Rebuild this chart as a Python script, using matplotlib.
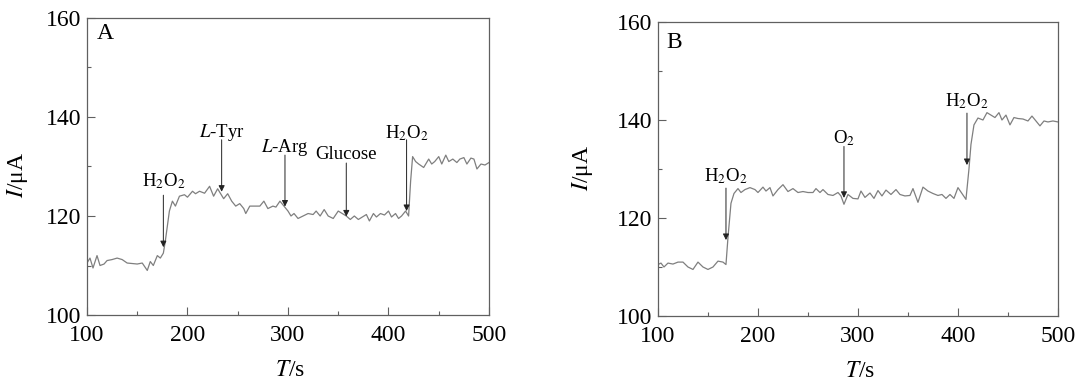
import numpy as np
import matplotlib
matplotlib.use('Agg')
import matplotlib.pyplot as plt
from matplotlib.ticker import MultipleLocator

plt.rcParams['font.family'] = ['Liberation Serif', 'DejaVu Serif']
plt.rcParams['mathtext.fontset'] = 'stix'

# Panel A: current response, several interferents then H2O2
t_a = [100, 103, 106, 110, 113, 117, 120, 125, 130, 135, 140, 145, 150, 155, 160, 163,
       166, 170, 173, 176, 178, 182, 185, 188, 192, 197, 200, 205, 208, 212, 217, 222,
       226, 230, 233, 236, 240, 244, 248, 252, 256, 258, 262, 268, 272, 276, 280, 285,
       288, 292, 296, 300, 303, 306, 310, 315, 320, 325, 328, 332, 336, 340, 345, 350,
       354, 358, 362, 366, 370, 374, 378, 381, 385, 388, 392, 396, 400, 403, 407, 410,
       413, 417, 420, 422, 424, 427, 430, 435, 440, 443, 446, 450, 453, 457, 460, 464,
       468, 471, 475, 478, 482, 485, 488, 492, 496, 500]
i_a = [110.5, 111.5, 109.5, 112.0, 110.0, 110.3, 111.0, 111.2, 111.5, 111.2, 110.5, 110.4,
       110.3, 110.5, 109.0, 110.8, 110.0, 112.0, 111.5, 112.5, 115.0, 121.0, 123.0, 122.0,
       124.0, 124.3, 123.8, 125.0, 124.5, 125.0, 124.6, 126.0, 124.0, 125.5, 124.5, 123.5,
       124.5, 123.0, 122.0, 122.5, 121.5, 120.5, 122.0, 122.0, 122.0, 123.0, 121.5, 122.0,
       121.8, 123.0, 122.0, 121.0, 120.0, 120.5, 119.5, 120.0, 120.5, 120.3, 121.0, 120.0,
       121.3, 120.0, 119.5, 121.0, 120.5, 120.0, 119.3, 120.0, 119.3, 119.8, 120.3, 119.0,
       120.5, 119.8, 120.5, 120.2, 121.0, 119.8, 120.5, 119.5, 120.0, 121.0, 120.0, 127.0,
       132.0, 131.0, 130.5, 129.8, 131.5, 130.5, 131.0, 132.0, 130.5, 132.3, 131.0, 131.5,
       130.8, 131.5, 131.8, 130.5, 131.7, 131.5, 129.5, 130.5, 130.3, 130.8]

# Panel B: H2O2, O2, H2O2
t_b = [100, 103, 106, 110, 115, 120, 125, 130, 135, 140, 145, 150, 155, 160, 165, 168,
       170, 173, 176, 180, 183, 187, 192, 197, 200, 205, 208, 212, 215, 220, 225, 230,
       235, 240, 245, 250, 255, 258, 262, 265, 270, 275, 280, 283, 286, 290, 295, 300,
       303, 307, 312, 316, 320, 324, 328, 333, 338, 342, 347, 352, 355, 360, 365, 370,
       375, 380, 384, 388, 392, 396, 400, 404, 408, 411, 413, 416, 420, 425, 429, 433,
       437, 441, 444, 448, 452, 456, 460, 465, 470, 474, 478, 482, 486, 490, 495, 500]
i_b = [110.5, 110.8, 110.0, 110.8, 110.6, 111.0, 111.0, 110.0, 109.5, 111.0, 110.0, 109.5,
       110.0, 111.2, 111.0, 110.5, 116.0, 123.0, 125.0, 126.0, 125.2, 125.8, 126.2, 125.8,
       125.2, 126.3, 125.5, 126.2, 124.5, 125.8, 126.8, 125.4, 126.0, 125.2, 125.4, 125.2,
       125.2, 126.0, 125.2, 125.8, 124.8, 124.6, 125.2, 124.5, 122.8, 124.8, 124.0, 123.9,
       125.5, 124.2, 125.1, 124.0, 125.6, 124.5, 125.7, 124.8, 125.8, 124.8, 124.5, 124.6,
       126.0, 123.2, 126.3, 125.5, 125.0, 124.6, 124.8, 124.0, 124.8, 124.0, 126.2, 125.0,
       123.8, 130.0, 135.0, 139.0, 140.4, 140.0, 141.5, 141.0, 140.5, 141.5, 140.0, 141.0,
       139.0, 140.5, 140.3, 140.2, 139.8, 140.8, 139.8, 138.8, 139.8, 139.6, 139.8, 139.6]

# arrows: label, x, arrow start (top), arrow tip, text centre
labels_a = [r'H$_2$O$_2$', r'$L$-Tyr', r'$L$-Arg', 'Glucose', r'H$_2$O$_2$']
x_a = [176, 234, 297, 358, 418]
top_a = [124.2, 135.4, 132.3, 130.7, 135.4]
tip_a = [113.7, 124.9, 121.9, 119.9, 121.0]
txt_a = [127.0, 136.8, 133.9, 132.5, 136.7]

labels_b = [r'H$_2$O$_2$', r'O$_2$', r'H$_2$O$_2$']
x_b = [168, 286, 409]
top_b = [126.1, 134.6, 141.4]
tip_b = [115.5, 124.1, 130.8]
txt_b = [128.6, 136.3, 143.9]

line_col = '#7f7f7f'
spine_col = '#606060'

fig = plt.figure(figsize=(10.79, 3.81), dpi=100)
ax1 = fig.add_axes([0.0806, 0.1732, 0.3726, 0.7796])
ax2 = fig.add_axes([0.6098, 0.1706, 0.3707, 0.7717])


def style(ax, letter, letter_pos, ylab_pos):
    ax.set_xlim(100, 500)
    ax.set_ylim(100, 160)
    ax.xaxis.set_major_locator(MultipleLocator(100))
    ax.xaxis.set_minor_locator(MultipleLocator(50))
    ax.yaxis.set_major_locator(MultipleLocator(20))
    ax.yaxis.set_minor_locator(MultipleLocator(10))
    ax.tick_params(which='both', direction='in', top=False, right=False,
                   color=spine_col, labelsize=17)
    ax.tick_params(axis='x', pad=7)
    ax.tick_params(axis='y', pad=4)
    ax.tick_params(which='major', length=6, width=0.8)
    ax.tick_params(which='minor', length=3, width=0.8)
    for s in ax.spines.values():
        s.set_color(spine_col)
        s.set_linewidth(0.9)
    ax.set_xlabel('$T$/s', fontsize=17)
    ax.set_ylabel('$I$/μA', fontsize=17)
    ax.xaxis.set_label_coords(0.505, -0.152)
    ax.yaxis.set_label_coords(*ylab_pos)
    ax.text(letter_pos[0], letter_pos[1], letter, transform=ax.transAxes,
            fontsize=17, ha='left', va='center')


def arrows(ax, labels, xs, tops, tips, txts):
    for lab, x, y0, y1, yt in zip(labels, xs, tops, tips, txts):
        ax.annotate('', xy=(x, y1), xytext=(x, y0),
                    arrowprops=dict(arrowstyle='-|>', color='#222222', lw=0.7,
                                    mutation_scale=9, shrinkA=0, shrinkB=0))
        ax.text(x, yt, lab, ha='center', va='center', fontsize=13.5)


ax1.plot(t_a, i_a, color=line_col, lw=0.9)
style(ax1, 'A', (0.024, 0.947), (-0.142, 0.47))
arrows(ax1, labels_a, x_a, top_a, tip_a, txt_a)

ax2.plot(t_b, i_b, color=line_col, lw=0.9)
style(ax2, 'B', (0.022, 0.929), (-0.157, 0.503))
arrows(ax2, labels_b, x_b, top_b, tip_b, txt_b)

plt.savefig('out.png', dpi=100)
